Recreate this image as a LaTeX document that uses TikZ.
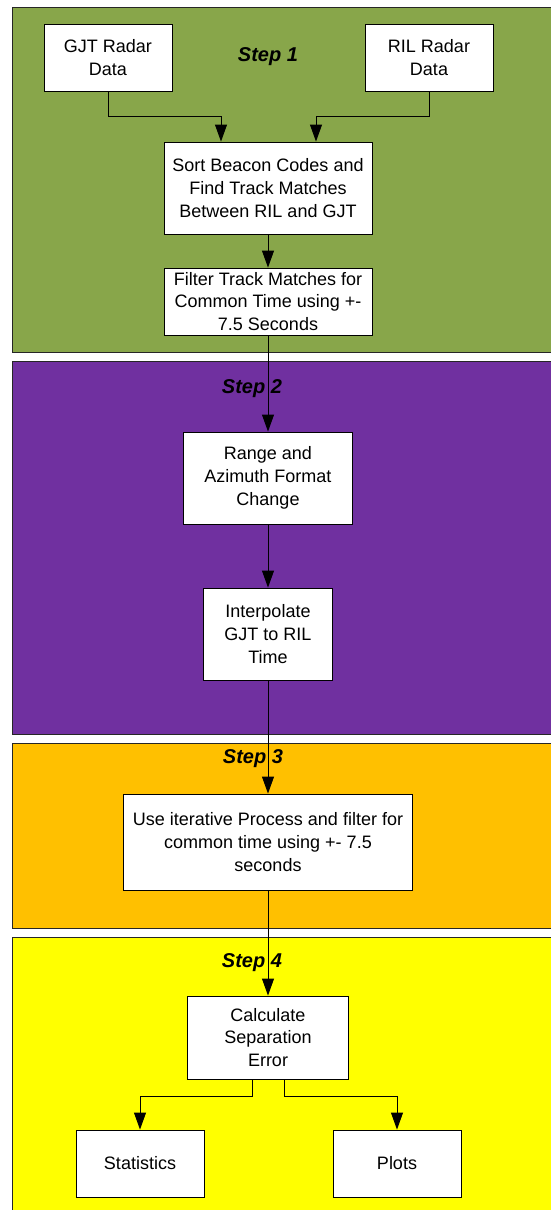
\documentclass[tikz,border=0pt]{standalone}
\usepackage{fontspec}
\setmainfont{Liberation Sans}
\usetikzlibrary{arrows.meta}

\definecolor{stepgreen}{RGB}{136,166,74}
\definecolor{steppurple}{RGB}{112,48,160}
\definecolor{steporange}{RGB}{255,192,0}
\definecolor{stepyellow}{RGB}{255,255,0}

\newcommand\stepband[3]{
    \filldraw[fill=#1, draw=black!85, line width=1pt] (12,#2) rectangle (562,#3);
}

\tikzset{
    procbox/.style={draw, fill=white, line width=0.9pt, align=center, inner sep=0pt,
        font=\fontsize{18}{22.7}\selectfont},
    steplabel/.style={font=\fontsize{20}{22}\selectfont\bfseries\itshape},
    flow/.style={line width=0.9pt, -{Triangle[length=17pt,width=12pt]}}
}

\begin{document}
\begin{tikzpicture}[x=1pt, y=-1pt]
    \useasboundingbox (0,0) rectangle (550,1210);

    \stepband{stepgreen}{7}{352}
    \stepband{steppurple}{361}{734}
    \stepband{steporange}{743}{928}
    \stepband{stepyellow}{937}{1216}

    \node[steplabel] (s1) at (268,57) {Step 1};
    \node[steplabel] (s2) at (252,389) {Step 2};
    \node[steplabel] (s3) at (253,759) {Step 3};
    \node[steplabel] (s4) at (252,963) {Step 4};

    \node[procbox, minimum width=128, minimum height=67] (gjt) at (108,57.5) {GJT Radar\\Data};
    \node[procbox, minimum width=128, minimum height=67] (ril) at (429,57.5) {RIL Radar\\Data};
    \node[procbox, minimum width=208, minimum height=92] (sort) at (268,188) {Sort Beacon Codes and\\Find Track Matches\\Between RIL and GJT};
    \node[procbox, minimum width=208, minimum height=67] (filt) at (268,301.5) {Filter Track Matches for\\Common Time using +-\\7.5 Seconds};

    \node[procbox, minimum width=169, minimum height=92] (range) at (268,478) {Range and\\Azimuth Format\\Change};
    \node[procbox, minimum width=129, minimum height=92] (interp) at (268,634) {Interpolate\\GJT to RIL\\Time};

    \node[procbox, minimum width=289, minimum height=96] (iter) at (268,842) {Use iterative Process and filter for\\common time using +- 7.5\\seconds};

    \node[procbox, minimum width=161, minimum height=83] (calc) at (268,1037.5) {Calculate\\Separation\\Error};
    \node[procbox, minimum width=128, minimum height=67] (stats) at (140,1163.5) {Statistics};
    \node[procbox, minimum width=128, minimum height=67] (plots) at (397,1163.5) {Plots};

    \draw[flow] (gjt.south) -- ++(0,25) -| ([xshift=-47pt]sort.north);
    \draw[flow] (ril.south) -- ++(0,25) -| ([xshift=48pt]sort.north);
    \draw[flow] (sort.south) -- (filt.north);
    \draw[flow] (filt.south) -- (range.north);
    \draw[flow] (range.south) -- (interp.north);
    \draw[flow] (interp.south) -- (iter.north);
    \draw[flow] (iter.south) -- (calc.north);
    \draw[flow] ([xshift=-16pt]calc.south) -- ++(0,17) -| (stats.north);
    \draw[flow] ([xshift=16pt]calc.south) -- ++(0,17) -| (plots.north);
\end{tikzpicture}
\end{document}
